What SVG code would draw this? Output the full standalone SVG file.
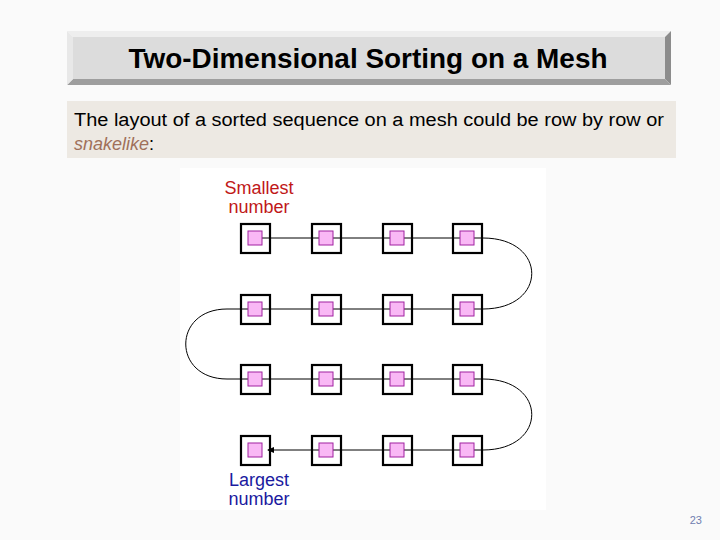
<svg xmlns="http://www.w3.org/2000/svg" width="720" height="540" viewBox="0 0 720 540">
<defs>
<marker id="ah" markerWidth="8" markerHeight="8" refX="6" refY="4" orient="auto" markerUnits="userSpaceOnUse"><path d="M0,1 L7,4 L0,7 Z" fill="#000"/></marker>
</defs>
<style>
.o{fill:none;stroke:#000;stroke-width:2.2}
.i{fill:#f9b8f5;stroke:#a020a0;stroke-width:1}
.c{fill:none;stroke:#000;stroke-width:1}
text{font-family:"Liberation Sans",Arial,sans-serif}
</style>
<rect width="720" height="540" fill="#fafafa"/>
<g id="title">
<polygon points="67,31 671,31 665,37 73,37" fill="#eeeeee"/>
<polygon points="671,31 671,85 665,79 665,37" fill="#8c8c8c"/>
<polygon points="67,85 671,85 665,79 73,79" fill="#9e9e9e"/>
<polygon points="67,31 73,37 73,79 67,85" fill="#e8e8e8"/>
<rect x="73" y="37" width="592" height="42" fill="#dcdcdc"/>
<text x="368" y="68" font-size="27" font-weight="bold" text-anchor="middle" textLength="479" lengthAdjust="spacingAndGlyphs">Two-Dimensional Sorting on a Mesh</text>
</g>
<g id="caption">
<rect x="67" y="101" width="609" height="57" fill="#ede9e3"/>
<text x="74" y="126" font-size="18" textLength="590" lengthAdjust="spacingAndGlyphs">The layout of a sorted sequence on a mesh could be row by row or</text>
<text x="74" y="150" font-size="18"><tspan fill="#a0705a" font-style="italic">snakelike</tspan>:</text>
</g>
<rect x="180" y="168" width="366" height="342" fill="#fff"/>
<g id="connectors">
<path class="c" d="M255 238 H483"/>
<path class="c" d="M483 238 C548 238 548 309 483 309"/>
<path class="c" d="M227 309 H483"/>
<path class="c" d="M227 309 C172 309 172 379 227 379"/>
<path class="c" d="M227 379 H483"/>
<path class="c" d="M483 379 C548 379 548 450 483 450"/>
<path class="c" d="M483 450 H268" marker-end="url(#ah)"/>
</g>
<g id="nodes">
<g id="r1"><rect class="o" x="241" y="224" width="29" height="29"/><rect class="i" x="248" y="231" width="14" height="14"/><rect class="o" x="312" y="224" width="29" height="29"/><rect class="i" x="319" y="231" width="14" height="14"/><rect class="o" x="383" y="224" width="29" height="29"/><rect class="i" x="390" y="231" width="14" height="14"/><rect class="o" x="453" y="224" width="29" height="29"/><rect class="i" x="460" y="231" width="14" height="14"/></g>
<g id="r2"><rect class="o" x="241" y="295" width="29" height="29"/><rect class="i" x="248" y="302" width="14" height="14"/><rect class="o" x="312" y="295" width="29" height="29"/><rect class="i" x="319" y="302" width="14" height="14"/><rect class="o" x="383" y="295" width="29" height="29"/><rect class="i" x="390" y="302" width="14" height="14"/><rect class="o" x="453" y="295" width="29" height="29"/><rect class="i" x="460" y="302" width="14" height="14"/></g>
<g id="r3"><rect class="o" x="241" y="365" width="29" height="29"/><rect class="i" x="248" y="372" width="14" height="14"/><rect class="o" x="312" y="365" width="29" height="29"/><rect class="i" x="319" y="372" width="14" height="14"/><rect class="o" x="383" y="365" width="29" height="29"/><rect class="i" x="390" y="372" width="14" height="14"/><rect class="o" x="453" y="365" width="29" height="29"/><rect class="i" x="460" y="372" width="14" height="14"/></g>
<g id="r4"><rect class="o" x="241" y="436" width="29" height="29"/><rect class="i" x="248" y="443" width="14" height="14"/><rect class="o" x="312" y="436" width="29" height="29"/><rect class="i" x="319" y="443" width="14" height="14"/><rect class="o" x="383" y="436" width="29" height="29"/><rect class="i" x="390" y="443" width="14" height="14"/><rect class="o" x="453" y="436" width="29" height="29"/><rect class="i" x="460" y="443" width="14" height="14"/></g>
</g>
<g id="labels">
<text x="259" y="194" font-size="18" fill="#c01818" text-anchor="middle">Smallest</text>
<text x="259" y="213" font-size="18" fill="#c01818" text-anchor="middle">number</text>
<text x="259" y="486" font-size="18" fill="#1a1aa0" text-anchor="middle">Largest</text>
<text x="259" y="505" font-size="18" fill="#1a1aa0" text-anchor="middle">number</text>
<text x="702" y="524" font-size="11" fill="#7080b0" text-anchor="end">23</text>
</g>
</svg>
